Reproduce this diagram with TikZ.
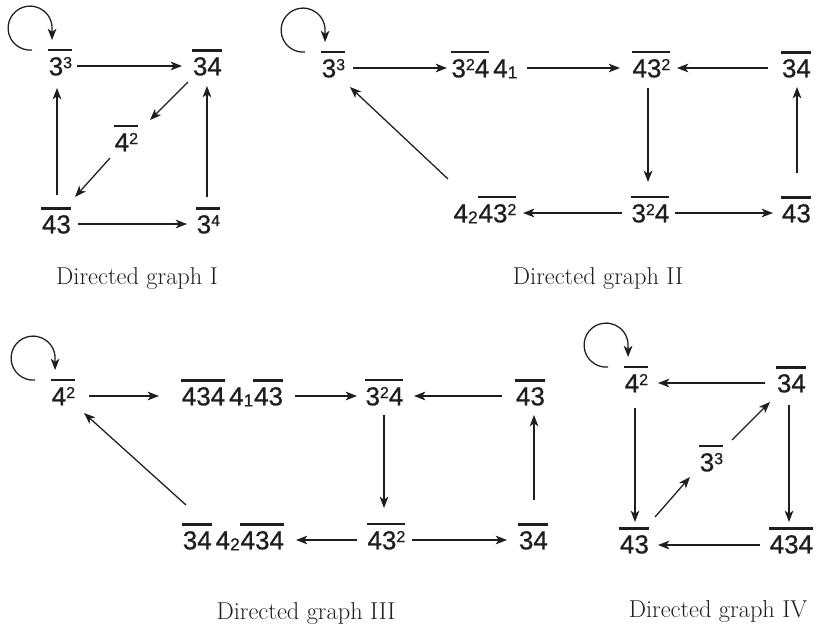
\documentclass[tikz,border=0pt]{standalone}
\usepackage{fontspec}
\usetikzlibrary{arrows.meta,calc}
\newfontfamily\labfont[FakeBold=0.7]{Liberation Sans}
\definecolor{ink}{HTML}{1E1E1E}
\newcommand\ob[1]{\leavevmode\vbox{\hrule height 1.6pt\kern 4.2pt\hbox{\kern0.6pt#1}}}
\newcommand\su[1]{\raisebox{5.4pt}{\fontsize{12}{12}\selectfont #1}}
\newcommand\sbx[1]{\raisebox{-0.8pt}{\fontsize{13}{13}\selectfont #1}}
\tikzset{
  lab/.style={font=\labfont\fontsize{19.5}{20}\selectfont, text=ink, inner sep=0pt, text height=14pt, text depth=0pt},
  captxt/.style={font=\fontsize{18.3}{19}\selectfont\addfontfeatures{FakeBold=0.5}, text=ink, anchor=base, inner sep=0pt},
  arr/.style={draw=ink, line width=0.95pt, -{Stealth[length=8.5pt,width=6.5pt,inset=2.3pt]}},
}
\newcommand\selfloop[1]{\draw[arr] ($(#1)+(-28,-16)$) arc[start angle=85, end angle=360, radius=22] -- ++(0,12);}
\begin{document}
\begin{tikzpicture}[x=0.75pt,y=-0.75pt]
\useasboundingbox (0,0) rectangle (816,631);
% ---------- Graph I ----------
\node[lab] (A1) at (60,66) {\ob{3\su{3}}};
\node[lab] (B1) at (207,66) {\ob{34}};
\node[lab] (C1) at (126,142) {\ob{4\su{2}}};
\node[lab] (D1) at (56,224) {\ob{43}};
\node[lab] (E1) at (208,224) {\ob{3\su{4}}};
\selfloop{A1}
\draw[arr] ($(A1)+(17,0)$) -- ($(B1)+(-25,0)$);
\draw[arr] ($(B1)+(-19,16)$) -- ($(C1)+(24,-22)$);
\draw[arr] ($(C1)+(-16,16)$) -- ($(D1)+(19,-27)$);
\draw[arr] ($(D1)+(1,-29)$) -- ($(A1)+(-3,22)$);
\draw[arr] ($(D1)+(22,0)$) -- ($(E1)+(-21,0)$);
\draw[arr] ($(E1)+(-1,-27)$) -- ($(B1)+(0,20)$);
\node[captxt] (T1) at (137,284) {Directed graph I};
% ---------- Graph II ----------
\node[lab] (A2) at (333,68) {\ob{3\su{3}}};
\node[lab] (B2) at (484,68) {\ob{3\su{2}4}\hspace{3pt}4\sbx{1}};
\node[lab] (C2) at (651,68) {\ob{43\su{2}}};
\node[lab] (D2) at (796,68) {\ob{34}};
\node[lab] (E2) at (485,213) {4\sbx{2}\ob{43\su{2}}};
\node[lab] (F2) at (650,213) {\ob{3\su{2}4}};
\node[lab] (G2) at (796,213) {\ob{43}};
\selfloop{A2}
\draw[arr] ($(A2)+(20,0)$) -- ($(B2)+(-37,0)$);
\draw[arr] ($(B2)+(43,0)$) -- ($(C2)+(-31,0)$);
\draw[arr] ($(D2)+(-28,0)$) -- ($(C2)+(26,0)$);
\draw[arr] ($(C2)+(-3,20)$) -- ($(F2)+(-2,-31)$);
\draw[arr] ($(F2)+(-28,0)$) -- ($(E2)+(38,0)$);
\draw[arr] ($(F2)+(25,0)$) -- ($(G2)+(-23,0)$);
\draw[arr] ($(G2)+(1,-40)$) -- ($(D2)+(1,19)$);
\draw[arr] ($(E2)+(-37,-34)$) -- ($(A2)+(17,19)$);
\node[captxt] (T2) at (598,284) {Directed graph II};
% ---------- Graph III ----------
\node[lab] (A3) at (63,396) {\ob{4\su{2}}};
\node[lab] (B3) at (232,396) {\ob{434}\hspace{3pt}4\sbx{1}\ob{43}};
\node[lab] (C3) at (384,396) {\ob{3\su{2}4}};
\node[lab] (D3) at (530,396) {\ob{43}};
\node[lab] (E3) at (233,540) {\ob{34}\hspace{3pt}4\sbx{2}\ob{434}};
\node[lab] (F3) at (386,540) {\ob{43\su{2}}};
\node[lab] (G3) at (533,540) {\ob{34}};
\selfloop{A3}
\draw[arr] ($(A3)+(26,0)$) -- ($(B3)+(-73,0)$);
\draw[arr] ($(B3)+(63,0)$) -- ($(C3)+(-27,0)$);
\draw[arr] ($(D3)+(-28,0)$) -- ($(C3)+(30,0)$);
\draw[arr] ($(C3)+(0,19)$) -- ($(F3)+(-2,-32)$);
\draw[arr] ($(F3)+(-29,0)$) -- ($(E3)+(63,0)$);
\draw[arr] ($(F3)+(26,0)$) -- ($(G3)+(-26,0)$);
\draw[arr] ($(G3)+(1,-40)$) -- ($(D3)+(4,19)$);
\draw[arr] ($(E3)+(-47,-35)$) -- ($(A3)+(21,17)$);
\node[captxt] (T3) at (306,619) {Directed graph III};
% ---------- Graph IV ----------
\node[lab] (A4) at (636,383) {\ob{4\su{2}}};
\node[lab] (B4) at (791,383) {\ob{34}};
\node[lab] (C4) at (711,462) {\ob{3\su{3}}};
\node[lab] (D4) at (634,544) {\ob{43}};
\node[lab] (E4) at (791,544) {\ob{434}};
\selfloop{A4}
\draw[arr] ($(B4)+(-26,0)$) -- ($(A4)+(22,0)$);
\draw[arr] ($(A4)+(-1,25)$) -- ($(D4)+(1,-22)$);
\draw[arr] ($(B4)+(-2,22)$) -- ($(E4)+(-2,-22)$);
\draw[arr] ($(E4)+(-31,1)$) -- ($(D4)+(24,1)$);
\draw[arr] ($(D4)+(21,-27)$) -- ($(C4)+(-21,15)$);
\draw[arr] ($(C4)+(21,-22)$) -- ($(B4)+(-21,19)$);
\node[captxt] (T4) at (718,617) {Directed graph IV};
\end{tikzpicture}
\end{document}
